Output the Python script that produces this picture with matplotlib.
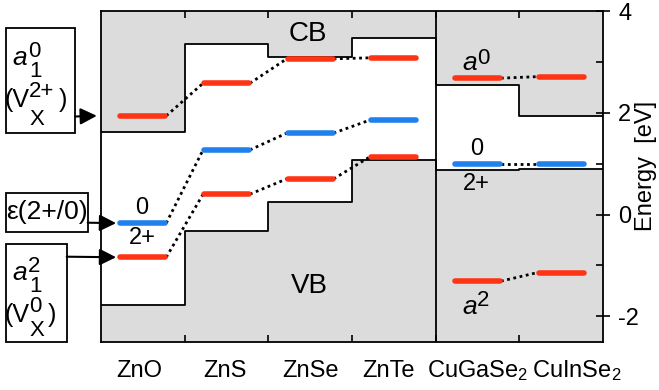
import matplotlib
matplotlib.use('Agg')
import matplotlib.pyplot as plt
from matplotlib.patches import Rectangle

plt.rcParams['font.family'] = ['Liberation Sans', 'DejaVu Sans']
plt.rcParams['mathtext.fontset'] = 'custom'
plt.rcParams['mathtext.rm'] = 'Liberation Sans'
plt.rcParams['mathtext.it'] = 'Liberation Sans:italic'
plt.rcParams['axes.unicode_minus'] = False

# data (eV)
materials = ['ZnO', 'ZnS', 'ZnSe', 'ZnTe', 'CuGaSe$_2$', 'CuInSe$_2$']
cbm = [1.63, 3.35, 3.09, 3.46, 2.55, 1.94]
vbm = [-1.78, -0.33, 0.25, 1.07, 0.87, 0.90]
a0_level = [1.94, 2.58, 3.06, 3.08, 2.68, 2.71]
trans_level = [-0.17, 1.27, 1.60, 1.86, 0.99, 0.99]
a2_level = [-0.84, 0.40, 0.70, 1.14, -1.31, -1.14]
groups = [[0, 1, 2, 3], [4, 5]]
yticks = [-2, 0, 2, 4]
yminor = [-1, 1, 3]

W, H = 659, 390
RED = '#ff3414'
BLUE = '#1f80ee'
GRAY = '#dcdcdc'
FS = 17

fig = plt.figure(figsize=(W / 100, H / 100), dpi=100)
ax = fig.add_axes([101 / W, 1 - 341.7 / H, 502 / W, 330.7 / H])
ax.set_xlim(0, len(materials))
ax.set_ylim(-2.5, 4)

edges = list(range(len(materials) + 1))
cb_ext = cbm + [cbm[-1]]
vb_ext = vbm + [vbm[-1]]
ax.fill_between(edges, cb_ext, 4, step='post', color=GRAY, lw=0)
ax.fill_between(edges, -2.5, vb_ext, step='post', color=GRAY, lw=0)
ax.step(edges, cb_ext, where='post', color='k', lw=1.3)
ax.step(edges, vb_ext, where='post', color='k', lw=1.3)
ax.axvline(4, color='k', lw=1.3)

# defect levels + dotted connectors
for levels, col in [(a0_level, RED), (trans_level, BLUE), (a2_level, RED)]:
    for i, v in enumerate(levels):
        ax.plot([i + 0.23, i + 0.77], [v, v], color=col, lw=4,
                solid_capstyle='round', zorder=4)
    for g in groups:
        for a, b in zip(g[:-1], g[1:]):
            ax.plot([a + 0.78, b + 0.22], [levels[a], levels[b]], color='k',
                    lw=2, linestyle=(0, (1, 1.3)), zorder=3)

ax.text(2.47, 3.55, 'CB', fontsize=20, ha='center', va='center')
ax.text(2.49, -1.41, 'VB', fontsize=20, ha='center', va='center')
ax.text(0.49, trans_level[0] + 0.3, '0', fontsize=FS, ha='center', va='center')
ax.text(0.49, trans_level[0] - 0.3, '2+', fontsize=FS, ha='center', va='center')
ax.text(4.49, trans_level[4] + 0.29, '0', fontsize=FS, ha='center', va='center')
ax.text(4.49, trans_level[4] - 0.4, '2+', fontsize=FS, ha='center', va='center')
ax.text(4.325, a0_level[4] + 0.17, 'a', fontsize=19, style='italic', ha='left', va='baseline')
ax.text(4.49, a0_level[4] + 0.27, '0', fontsize=16, ha='left', va='baseline')
ax.text(4.325, a2_level[4] - 0.64, 'a', fontsize=19, style='italic', ha='left', va='baseline')
ax.text(4.49, a2_level[4] - 0.48, '2', fontsize=16, ha='left', va='baseline')

# axes / ticks
ax.yaxis.tick_right()
ax.set_yticks(yticks)
ax.set_yticklabels([str(t) for t in yticks])
ax.set_yticks(yminor, minor=True)
ax.tick_params(axis='y', which='major', direction='inout', length=10, width=1.2,
               labelsize=FS, pad=6)
ax.tick_params(axis='y', which='minor', direction='in', length=5, width=1.2)
ax.set_xticks([])
ax.set_xticks(edges[1:-1], minor=True)
ax.tick_params(axis='x', which='minor', direction='in', length=5, width=1.2,
               top=True, bottom=True)
for s in ax.spines.values():
    s.set_linewidth(1.3)

label_shift = [-0.04, -0.02, 0, -0.06, 0, 0.18]
for i, m in enumerate(materials):
    ax.text(i + 0.5 + label_shift[i], -0.106, m, fontsize=FS, ha='center',
            va='baseline', transform=ax.get_xaxis_transform())
ax.text(1.086, 0.53, 'Energy  [eV]', fontsize=FS, rotation=90, ha='center',
        va='center', transform=ax.transAxes)

# boxes on the left (figure pixels, top-left origin)
def box(x0, y0, x1, y1):
    fig.patches.append(Rectangle((x0 / W, 1 - y1 / H), (x1 - x0) / W, (y1 - y0) / H,
                                 transform=fig.transFigure, fill=False,
                                 edgecolor='k', lw=1.3))

def ftext(x, y, s, size=18, ha='left', va='baseline', **kw):
    fig.text(x / W, 1 - y / H, s, fontsize=size, ha=ha, va=va, **kw)

def vac_label(y_a, y_v, y_x, a_sup, v_sup, close_x):
    # a_1^n over (V_X^q)
    ftext(12, y_a, 'a', size=19, style='italic')
    ftext(28, y_a - 8, a_sup, size=16)
    ftext(29, y_a + 12, '1', size=16)
    ftext(5, y_v, '(V', size=18)
    ftext(29, y_v - 10, v_sup, size=16)
    ftext(30, y_x, 'X', size=16)
    ftext(close_x, y_v, ')', size=18)

box(5.7, 28, 75, 133)
vac_label(65, 107, 125, '0', '2+', 59)
box(5.7, 193.3, 87.7, 232.3)
ftext(46.7, 212.5, '\u03b5(2+/0)', size=19, ha='center', va='center')
box(5.7, 244, 66.7, 341.7)
vac_label(280, 322, 336, '2', '0', 48)

arrow = dict(arrowstyle='-|>,head_length=0.5,head_width=0.25', color='k',
             lw=1.5, mutation_scale=20, shrinkA=0, shrinkB=0)
ax.annotate('', xy=(-0.05, a0_level[0]), xytext=(75, H - 116.5),
            textcoords='figure pixels', arrowprops=arrow, annotation_clip=False)
ax.annotate('', xy=(0.18, trans_level[0]), xytext=(87.7, H - 222.7),
            textcoords='figure pixels', arrowprops=arrow)
ax.annotate('', xy=(0.18, a2_level[0]), xytext=(66.7, H - 256.7),
            textcoords='figure pixels', arrowprops=arrow)

fig.savefig('out.png', dpi=100)
